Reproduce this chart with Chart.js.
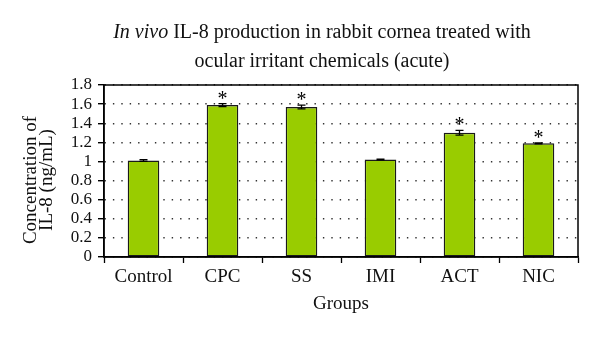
<!DOCTYPE html>
<html>
<head>
<meta charset="utf-8">
<script src="https://cdn.jsdelivr.net/npm/chart.js@4"></script>
<style>
  html, body { margin: 0; padding: 0; background: #fff; }
  #wrap { width: 600px; height: 337px; position: relative; }
</style>
</head>
<body>
<div id="wrap"><canvas id="grafico"></canvas></div>
<script>
// Dados
const grupos      = ['Control', 'CPC', 'SS', 'IMI', 'ACT', 'NIC'];
const il8Media    = [1.01, 1.59, 1.57, 1.02, 1.30, 1.19];
const il8Erro     = [0.010, 0.015, 0.020, 0.004, 0.025, 0.005];
const significado = ['', '*', '*', '', '*', '*'];
const tituloItalico = 'In vivo';
const tituloLinhas  = [' IL-8 production in rabbit cornea treated with', 'ocular irritant chemicals (acute)'];
const tituloEixoY   = ['Concentration of', 'IL-8 (ng/mL)'];
const tituloEixoX   = 'Groups';

const FONTE = "'Liberation Serif', 'DejaVu Serif', serif";

// Barras de erro + asteriscos + moldura
const pluginErro = {
  id: 'barrasErro',
  afterDatasetsDraw(chart) {
    const ctx = chart.ctx;
    const y = chart.scales.y;
    const meta = chart.getDatasetMeta(0);
    ctx.save();
    ctx.strokeStyle = '#000';
    ctx.lineWidth = 1.3;
    meta.data.forEach((barra, i) => {
      const x = barra.x;
      const yAlto = y.getPixelForValue(il8Media[i] + il8Erro[i]);
      const yBaixo = y.getPixelForValue(il8Media[i] - il8Erro[i]);
      ctx.beginPath();
      ctx.moveTo(x, yAlto); ctx.lineTo(x, yBaixo);
      ctx.moveTo(x - 4, yAlto); ctx.lineTo(x + 4, yAlto);
      ctx.moveTo(x - 4, yBaixo); ctx.lineTo(x + 4, yBaixo);
      ctx.stroke();
      if (significado[i]) {
        ctx.fillStyle = '#000';
        ctx.font = '20px ' + FONTE;
        ctx.textAlign = 'center';
        ctx.textBaseline = 'alphabetic';
        ctx.fillText(significado[i], x, yAlto + 1);
      }
    });
    const a = chart.chartArea;
    ctx.lineWidth = 1.5;
    ctx.strokeRect(a.left, a.top, a.right - a.left, a.bottom - a.top);
    ctx.restore();
  }
};

// Título (com itálico) e título do eixo Y
const pluginTitulo = {
  id: 'tituloMisto',
  afterDraw(chart) {
    const ctx = chart.ctx;
    ctx.save();
    ctx.fillStyle = '#111';
    ctx.textBaseline = 'alphabetic';
    ctx.textAlign = 'left';
    const centro = 322;
    ctx.font = 'italic 20px ' + FONTE;
    const wIt = ctx.measureText(tituloItalico).width;
    ctx.font = '20px ' + FONTE;
    const wRest = ctx.measureText(tituloLinhas[0]).width;
    const x0 = centro - (wIt + wRest) / 2;
    ctx.font = 'italic 20px ' + FONTE;
    ctx.fillText(tituloItalico, x0, 38);
    ctx.font = '20px ' + FONTE;
    ctx.fillText(tituloLinhas[0], x0 + wIt, 38);
    ctx.textAlign = 'center';
    ctx.fillText(tituloLinhas[1], centro, 67);

    // eixo Y: duas linhas rotacionadas
    ctx.font = '19px ' + FONTE;
    ctx.textBaseline = 'middle';
    ctx.translate(0, 180);
    ctx.rotate(-Math.PI / 2);
    ctx.fillText(tituloEixoY[0], 0, 31);
    ctx.fillText(tituloEixoY[1], 0, 47);
    ctx.restore();
  }
};

const contexto = document.getElementById('grafico').getContext('2d');

new Chart(contexto, {
  type: 'bar',
  data: {
    labels: grupos,
    datasets: [{
      data: il8Media,
      backgroundColor: '#99cc00',
      borderColor: '#1a1a1a',
      borderWidth: 1.4,
      borderSkipped: false,
      categoryPercentage: 1,
      barPercentage: 0.4
    }]
  },
  options: {
    responsive: true,
    maintainAspectRatio: false,
    animation: false,
    layout: { padding: { top: 85, right: 22, left: 0, bottom: 0 } },
    plugins: { legend: { display: false }, tooltip: { enabled: false } },
    scales: {
      x: {
        afterFit: escala => { escala.height = 80; },
        grid: { drawOnChartArea: false, offset: true, tickLength: 6, tickColor: '#000', tickWidth: 1.3 },
        border: { color: '#000', width: 1.5 },
        ticks: { color: '#111', font: { family: FONTE, size: 19 }, padding: 3, maxRotation: 0, autoSkip: false },
        title: { display: true, text: tituloEixoX, color: '#111', font: { family: FONTE, size: 19 }, padding: { top: 0, bottom: 22 } }
      },
      y: {
        min: 0, max: 1.8,
        afterFit: escala => { escala.width = 104; },
        grid: { color: '#333', lineWidth: 1.4, tickBorderDash: [], tickColor: '#000', tickLength: 6 },
        border: { color: '#000', width: 1.5, dash: [1.4, 7] },
        ticks: { stepSize: 0.2, autoSkip: false, color: '#111', font: { family: FONTE, size: 17 }, padding: 6, callback: v => +v.toFixed(1) }
      }
    }
  },
  plugins: [pluginErro, pluginTitulo]
});
</script>
</body>
</html>
